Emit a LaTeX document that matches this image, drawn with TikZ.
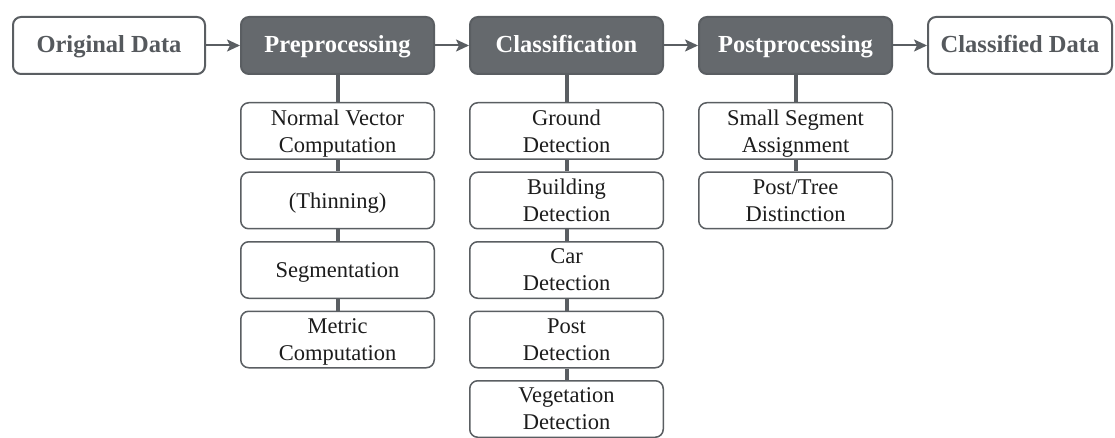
\documentclass[tikz,border=0pt]{standalone}
\usepackage{fontspec}
\setmainfont{Liberation Serif}
\usepackage{tikz}
\usetikzlibrary{positioning, arrows.meta}
\definecolor{StageGray}{RGB}{101, 105, 109}
\definecolor{EdgeGray}{RGB}{90, 94, 98}
\definecolor{LabelGray}{RGB}{85, 89, 93}
\definecolor{StepText}{RGB}{28, 28, 28}

\begin{document}
\begin{tikzpicture}[
    x=1pt, y=-1pt,
    every node/.style={align=center},
    stage/.style={draw=EdgeGray, fill=StageGray, text=white, rounded corners=8pt, line width=2pt,
      minimum width=193pt, minimum height=57pt, inner sep=2pt, text height=18pt, text depth=3pt,
      font=\fontsize{24.5}{28}\selectfont\bfseries},
    data/.style={stage, fill=white, text=LabelGray},
    substep/.style={draw=EdgeGray, fill=white, text=StepText, rounded corners=8pt, line width=1.5pt,
      minimum width=193.5pt, minimum height=56.5pt, inner sep=1pt, text depth=0pt,
      font=\fontsize{22.5}{27}\selectfont},
    flow/.style={draw=EdgeGray, line width=2pt, -{Stealth[length=13pt, width=12pt, inset=3pt]}},
    link/.style={draw=EdgeGray, line width=4pt}
  ]
    \useasboundingbox (0,0) rectangle (1115,438);

    % main chain
    \node[data, minimum width=192pt] (orig) at (109,45.5) {Original Data};
    \node[stage, right=34pt of orig] (pre) {Preprocessing};
    \node[stage, right=34pt of pre] (cls) {Classification};
    \node[stage, right=34pt of cls] (post) {Postprocessing};
    \node[data, minimum width=184pt, right=34pt of post] (out) {Classified Data};

    % preprocessing steps
    \node[substep, below=27pt of pre] (normals) {Normal Vector\\Computation};
    \node[substep, below=11.5pt of normals] (thin) {(Thinning)};
    \node[substep, below=11.5pt of thin] (seg) {Segmentation};
    \node[substep, below=11.5pt of seg] (metric) {Metric\\Computation};

    % classification steps
    \node[substep, below=27pt of cls] (ground) {Ground\\Detection};
    \node[substep, below=11.5pt of ground] (building) {Building\\Detection};
    \node[substep, below=11.5pt of building] (car) {Car\\Detection};
    \node[substep, below=11.5pt of car] (pole) {Post\\Detection};
    \node[substep, below=11.5pt of pole] (veg) {Vegetation\\Detection};

    % postprocessing steps
    \node[substep, below=27pt of post] (small) {Small Segment\\Assignment};
    \node[substep, below=11.5pt of small] (tree) {Post/Tree\\Distinction};

    \draw[flow] (orig) -- (pre);
    \draw[flow] (pre) -- (cls);
    \draw[flow] (cls) -- (post);
    \draw[flow] (post) -- (out);

    \draw[link] (pre) -- (normals) -- (thin) -- (seg) -- (metric);
    \draw[link] (cls) -- (ground) -- (building) -- (car) -- (pole) -- (veg);
    \draw[link] (post) -- (small) -- (tree);
  \end{tikzpicture}
\end{document}
